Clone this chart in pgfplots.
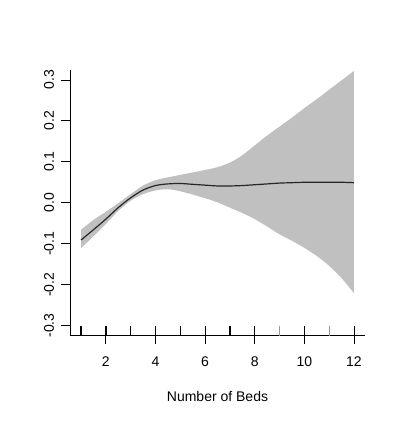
\documentclass[border=0pt]{standalone}
\usepackage{pgfplots}
\pgfplotsset{compat=1.18}
\usepgfplotslibrary{fillbetween}
\usepackage{fontspec}
\setmainfont{Liberation Sans}
\definecolor{band}{RGB}{192,192,192}
\pgfplotstableread{
x lo fit up
1.0 -0.111 -0.091 -0.066
1.5 -0.082 -0.066 -0.042
2.0 -0.052 -0.040 -0.022
2.5 -0.020 -0.012 -0.001
3.0 0.005 0.012 0.021
3.5 0.021 0.031 0.042
4.0 0.030 0.042 0.055
4.5 0.033 0.046 0.062
5.0 0.028 0.047 0.068
5.5 0.020 0.045 0.074
6.0 0.011 0.043 0.080
6.5 0.001 0.041 0.087
7.0 -0.012 0.041 0.098
7.5 -0.025 0.042 0.116
8.0 -0.040 0.044 0.140
8.5 -0.058 0.046 0.164
9.0 -0.077 0.048 0.186
9.5 -0.093 0.049 0.208
10.0 -0.110 0.050 0.231
10.5 -0.130 0.050 0.253
11.0 -0.154 0.050 0.276
11.5 -0.184 0.050 0.299
12.0 -0.221 0.049 0.322
}\datatable
\begin{document}
\begin{tikzpicture}
\path (0,0) rectangle (401pt,423pt);
\begin{axis}[
  at={(70pt,87.5pt)}, anchor=south west,
  scale only axis, width=295pt, height=265.5pt,
  xmin=0.556, xmax=12.444, ymin=-0.3242, ymax=0.3242,
  axis x line*=bottom, axis y line*=left,
  axis line style={-, line width=0.8pt, black},
  tick align=outside, major tick length=9pt,
  every tick/.style={line width=0.8pt, black},
  xtick={2,4,6,8,10,12},
  ytick={-0.3,-0.2,-0.1,0,0.1,0.2,0.3},
  yticklabels={-0.3,-0.2,-0.1,0.0,0.1,0.2,0.3},
  ticklabel style={font=\fontsize{14}{16}\selectfont},
  yticklabel style={rotate=90, anchor=center, yshift=12pt},
  xticklabel style={anchor=center, yshift=-17pt},
  /pgf/number format/assume math mode=true,
  xlabel={Number of Beds},
  xlabel style={font=\fontsize{14}{16}\selectfont, at={(axis description cs:0.5,0)}, anchor=center, yshift=-60.5pt},
  clip=false,
]
\addplot[name path=U, draw=none, smooth] table[x=x, y=up] {\datatable};
\addplot[name path=L, draw=none, smooth] table[x=x, y=lo] {\datatable};
\addplot[band, draw=none] fill between[of=U and L];
\addplot[smooth, line width=1.2pt, black!85] table[x=x, y=fit] {\datatable};
% rug
\addplot[only marks, mark=|, mark size=5pt, line width=1.7pt, black] coordinates {(1,-0.312) (2,-0.312) (7,-0.312)};
\addplot[only marks, mark=|, mark size=5pt, line width=0.9pt, black] coordinates {(3,-0.312) (4,-0.312) (5,-0.312) (6,-0.312) (8,-0.312) (10,-0.312) (12,-0.312)};
\addplot[only marks, mark=|, mark size=5pt, line width=0.8pt, black!40] coordinates {(9,-0.312) (11,-0.312)};
\end{axis}
\end{tikzpicture}
\end{document}
